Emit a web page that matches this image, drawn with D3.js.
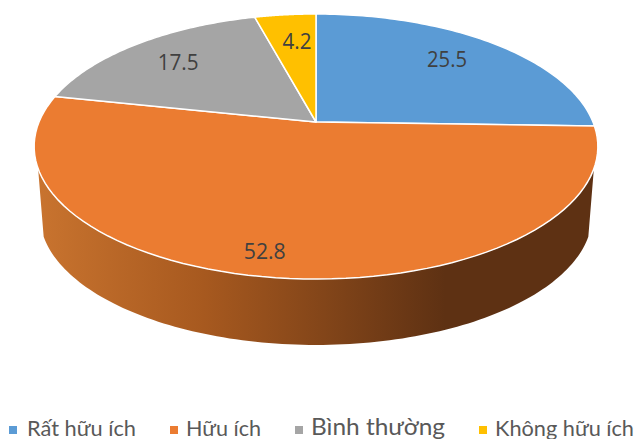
<!DOCTYPE html>
<html lang="vi">
<head>
<meta charset="UTF-8">
<title>Pie chart</title>
<script src="https://cdnjs.cloudflare.com/ajax/libs/d3/7.8.5/d3.min.js"></script>
<style>
    html, body { margin: 0; padding: 0; background: #fff; overflow: hidden; }
    svg { display: block; }
    text { font-family: 'Open Sans', 'Noto Sans', sans-serif; }
    .legend text { font-family: 'Lato', 'Open Sans', sans-serif; }
</style>
</head>
<body>
<svg id="chart" width="637" height="439"></svg>
<script>
const categories = ["Rất hữu ích", "Hữu ích", "Bình thường", "Không hữu ích"];
const values = [25.5, 52.8, 17.5, 4.2];
const colors = ["#5b9bd5", "#eb7c31", "#a5a5a5", "#ffc000"];

const svg = d3.select("#chart");

// pie is tilted, so the far side looks squeezed: project the unit circle by hand
const cx = 316, cy = 122, rx = 277, ry = 128, persp = 0.185;
const depth = 69, bottomScale = 0.98;

function project(angle, r = 1, level = 0) {
    const X = r * Math.sin(angle), Y = -r * Math.cos(angle);
    const w = 1 - persp * Y;
    const s = level ? bottomScale : 1;
    return [cx + s * rx * X / w, cy + (level ? depth : 0) + s * ry * Y / w];
}

const pie = d3.pie().sort(null).value(d => d);
const arcs = pie(values);
const line = d3.line();

function slicePath(d) {
    const steps = d3.range(0, 81).map(i => d.startAngle + (d.endAngle - d.startAngle) * i / 80);
    return line([[cx, cy], ...steps.map(a => project(a))]) + "Z";
}

// side wall, front part of the rim only
const sideFrom = 110 * Math.PI / 180, sideTo = 250 * Math.PI / 180;
const sideAngles = d3.range(0, 121).map(i => sideFrom + (sideTo - sideFrom) * i / 120);
const sidePts = [...sideAngles.map(a => project(a)), ...sideAngles.slice().reverse().map(a => project(a, 1, 1))];

const sideColor = d3.scaleLinear()
    .domain([0, 0.3, 0.73, 1])
    .range(["#c9742f", "#a7591f", "#5e3113", "#5e3113"]);

const grad = svg.append("defs").append("linearGradient")
    .attr("id", "side")
    .attr("gradientUnits", "userSpaceOnUse")
    .attr("x1", 35).attr("x2", 597).attr("y1", 0).attr("y2", 0);
grad.selectAll("stop")
    .data(sideColor.domain())
    .join("stop")
    .attr("offset", d => d)
    .attr("stop-color", d => sideColor(d));

svg.append("path")
    .attr("d", line(sidePts) + "Z")
    .attr("fill", "url(#side)");

svg.selectAll(".slice")
    .data(arcs)
    .join("path")
    .attr("class", "slice")
    .attr("d", slicePath)
    .attr("fill", (d, i) => colors[i])
    .attr("stroke", "#fff")
    .attr("stroke-width", 1.5)
    .attr("stroke-linejoin", "round");

// data labels, Excel moved them a bit off the radius
const labelRadius = [0.75, 0.85, 0.75, 0.75];
const labelShiftX = [-5, -18, 0, 5];
const labelShiftY = [-1.5, 1.5, 0, 3];
const labelWidth = [40, 42, 41, 29];

svg.selectAll(".value")
    .data(arcs)
    .join("text")
    .attr("class", "value")
    .attr("x", (d, i) => project((d.startAngle + d.endAngle) / 2, labelRadius[i])[0] + labelShiftX[i])
    .attr("y", (d, i) => project((d.startAngle + d.endAngle) / 2, labelRadius[i])[1] + labelShiftY[i])
    .attr("dy", "0.36em")
    .attr("text-anchor", "middle")
    .attr("font-size", 22)
    .attr("textLength", (d, i) => labelWidth[i])
    .attr("lengthAdjust", "spacingAndGlyphs")
    .attr("fill", "#404040")
    .text(d => d.data);

// legend
const legendSquare = [9, 170, 295, 479];
const legendText = [27, 186, 311, 495];
const legendWidth = [109, 75, 134, 139];
const legendFont = [21, 21, 23, 21];
const legendBase = [436, 436, 435, 436];

const legend = svg.selectAll(".legend")
    .data(categories)
    .join("g")
    .attr("class", "legend");

legend.append("rect")
    .attr("x", (d, i) => legendSquare[i])
    .attr("y", 426)
    .attr("width", 8)
    .attr("height", 8)
    .attr("fill", (d, i) => colors[i]);

legend.append("text")
    .attr("x", (d, i) => legendText[i])
    .attr("y", (d, i) => legendBase[i])
    .attr("font-size", (d, i) => legendFont[i])
    .attr("textLength", (d, i) => legendWidth[i])
    .attr("lengthAdjust", "spacingAndGlyphs")
    .attr("fill", "#595959")
    .text(d => d);
</script>
</body>
</html>
